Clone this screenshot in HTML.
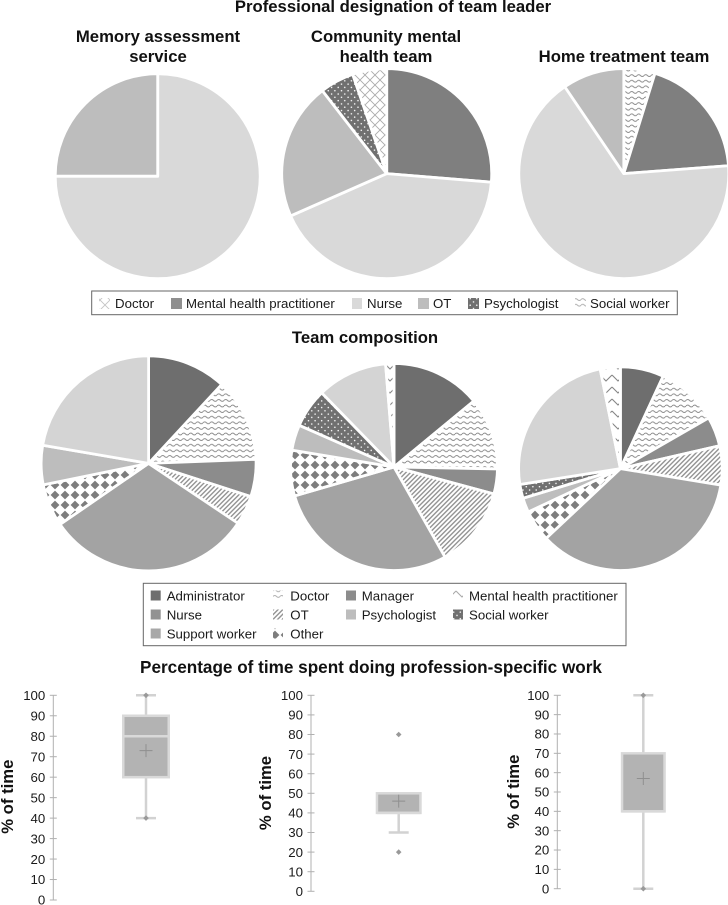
<!DOCTYPE html>
<html lang="en">
<head>
<meta charset="utf-8">
<title>Team leader, composition and profession-specific work</title>
<style>
html,body{margin:0;padding:0;background:#fff;}
svg{display:block;font-family:"Liberation Sans",Arial,sans-serif;}
.t{font-size:16.7px;font-weight:bold;fill:#111;text-anchor:middle;}
.l{font-size:13.25px;fill:#1a1a1a;}
</style>
</head>
<body>
<svg id="chart" xmlns="http://www.w3.org/2000/svg" width="728" height="905" viewBox="0 0 728 905">
<defs>
<pattern id="p-wave" patternUnits="userSpaceOnUse" width="7" height="5.6"><rect width="7" height="5.6" fill="#fff"/><path d="M0 2.8Q1.75 1 3.5 2.8T7 2.8" fill="none" stroke="#8a8a8a" stroke-width=".95"/></pattern>
<pattern id="p-cross" patternUnits="userSpaceOnUse" width="10" height="10"><rect width="10" height="10" fill="#fff"/><path d="M0 0L10 10M10 0L0 10" stroke="#ababab" stroke-width=".9"/></pattern>
<pattern id="p-stripe" patternUnits="userSpaceOnUse" width="3.3" height="3.3" patternTransform="rotate(45)"><rect width="3.3" height="3.3" fill="#fff"/><rect width="1.4" height="3.3" fill="#939393"/></pattern>
<pattern id="p-diamond" patternUnits="userSpaceOnUse" width="10" height="10"><rect width="10" height="10" fill="#fff"/><polygon points="5,0.6 9.4,5 5,9.4 0.6,5" fill="#7d7d7d"/></pattern>
<pattern id="p-dots" patternUnits="userSpaceOnUse" width="6.6" height="6.6"><rect width="6.6" height="6.6" fill="#707070"/><circle cx="1.6" cy="1.6" r=".75" fill="#fff"/><circle cx="4.9" cy="4.9" r=".75" fill="#fff"/></pattern>
<pattern id="p-zig" patternUnits="userSpaceOnUse" width="12" height="12"><rect width="12" height="12" fill="#fff"/><path d="M0 3L6 9L12 3" fill="none" stroke="#858585" stroke-width="1.1"/></pattern>
</defs>

<text class="t" x="393" y="12">Professional designation of team leader</text>
<text class="t" x="158" y="42">Memory assessment</text>
<text class="t" x="158" y="62">service</text>
<text class="t" x="386" y="42">Community mental</text>
<text class="t" x="386" y="62">health team</text>
<text class="t" x="624" y="62">Home treatment team</text>
<text class="t" x="365" y="343">Team composition</text>
<text class="t" x="371" y="673" style="font-size:17.15px">Percentage of time spent doing profession-specific work</text>

<g id="pies"></g>
<g id="boxes"></g>

<g>
<rect x="91.7" y="291" width="585.6" height="23.7" fill="#fff" stroke="#666" stroke-width="1"/>
<rect x="99" y="298" width="11" height="11" fill="url(#p-cross)" opacity=".7"/>
<text class="l" x="115" y="308">Doctor</text>
<rect x="171" y="298" width="11" height="11" fill="#8f8f8f"/>
<text class="l" x="186" y="308">Mental health practitioner</text>
<rect x="352" y="298" width="10" height="11" fill="#d9d9d9"/>
<text class="l" x="367" y="308">Nurse</text>
<rect x="418" y="298" width="11" height="11" fill="#bdbdbd"/>
<text class="l" x="433" y="308">OT</text>
<rect x="468" y="298" width="11" height="11" fill="url(#p-dots)"/>
<text class="l" x="484" y="308">Psychologist</text>
<rect x="575" y="298" width="11" height="11" fill="url(#p-wave)" opacity=".7"/>
<text class="l" x="590" y="308">Social worker</text>
</g>

<g>
<rect x="143.3" y="583.3" width="482.7" height="62.4" fill="#fff" stroke="#666" stroke-width="1"/>
<rect x="150.7" y="590.5" width="10" height="10" fill="#6e6e6e"/>
<text class="l" x="166.7" y="600.5">Administrator</text>
<rect x="273" y="590.5" width="10" height="10" fill="url(#p-wave)" opacity=".7"/>
<text class="l" x="290.3" y="600.5">Doctor</text>
<rect x="346" y="590.5" width="10" height="10" fill="#8c8c8c"/>
<text class="l" x="361.7" y="600.5">Manager</text>
<rect x="453" y="590.5" width="10" height="10" fill="url(#p-zig)" opacity=".7"/>
<text class="l" x="469" y="600.5">Mental health practitioner</text>
<rect x="150.7" y="609.5" width="10" height="10" fill="#929292"/>
<text class="l" x="166.7" y="619.5">Nurse</text>
<rect x="273" y="609.5" width="10" height="10" fill="url(#p-stripe)"/>
<text class="l" x="290.3" y="619.5">OT</text>
<rect x="346" y="590.5" width="0" height="0" fill="none"/>
<rect x="346" y="609.5" width="10" height="10" fill="#bdbdbd"/>
<text class="l" x="361.7" y="619.5">Psychologist</text>
<rect x="453" y="609.5" width="10" height="10" fill="url(#p-dots)"/>
<text class="l" x="469" y="619.5">Social worker</text>
<rect x="150.7" y="628.5" width="10" height="10" fill="#a8a8a8"/>
<text class="l" x="166.7" y="638.5">Support worker</text>
<rect x="273" y="628.5" width="10" height="10" fill="url(#p-diamond)"/>
<text class="l" x="290.3" y="638.5">Other</text>
</g>
</svg>

<script>
// Pie data: slices listed clockwise from 12 o'clock, values in percent
const leaderMemoryCategories = ['Nurse', 'OT'];
const leaderMemoryValues = [75, 25];
const leaderCommunityCategories = ['Mental health practitioner', 'Nurse', 'OT', 'Psychologist', 'Doctor'];
const leaderCommunityValues = [26.3, 42.1, 21.1, 5.25, 5.25];
const leaderHomeCategories = ['Social worker', 'Mental health practitioner', 'Nurse', 'OT'];
const leaderHomeValues = [4.8, 19, 66.7, 9.5];

const compMemoryCategories = ['Administrator', 'Doctor', 'Manager', 'OT', 'Support worker', 'Other', 'Psychologist', 'Nurse'];
const compMemoryValues = [11.9, 12.5, 5.6, 4.4, 31, 6.4, 5.9, 22.3];
const compCommunityCategories = ['Administrator', 'Doctor', 'Manager', 'OT', 'Support worker', 'Other', 'Psychologist', 'Social worker', 'Nurse', 'Mental health practitioner'];
const compCommunityValues = [14, 11.3, 3.9, 12.6, 28.7, 7.1, 4, 6.1, 11, 1.3];
const compHomeCategories = ['Administrator', 'Doctor', 'Manager', 'OT', 'Support worker', 'Other', 'Psychologist', 'Social worker', 'Nurse', 'Mental health practitioner'];
const compHomeValues = [6.9, 9.8, 4.7, 6.2, 35.4, 5, 2.3, 2.2, 24.3, 3.2];

// Box plot data: memory service, community team, home treatment team
const tickLabels = [0, 10, 20, 30, 40, 50, 60, 70, 80, 90, 100];
const boxTeams = ['memory', 'community', 'home'];
const boxQ1 = [60, 40, 40];
const boxMedian = [80, 40, 40];
const boxQ3 = [90, 50, 70];
const boxWhiskerLow = [40, 30, 0];
const boxWhiskerHigh = [100, 50, 100];
const boxMean = [73, 46, 57];
const boxMarkers = [[100, 40], [80, 20], [100, 0]];

const NS = 'http://www.w3.org/2000/svg';
function make(tag, attrs, parent) {
  const node = document.createElementNS(NS, tag);
  for (const k in attrs) node.setAttribute(k, attrs[k]);
  parent.appendChild(node);
  return node;
}
function kebab(s) { return s.toLowerCase().replace(/[^a-z0-9]+/g, '-'); }

function leaderFill(cat) {
  if (cat === 'Doctor') return 'url(#p-cross)';
  if (cat === 'Mental health practitioner') return '#7f7f7f';
  if (cat === 'Nurse') return '#d9d9d9';
  if (cat === 'OT') return '#bdbdbd';
  if (cat === 'Psychologist') return 'url(#p-dots)';
  return 'url(#p-wave)';
}
function compFill(cat) {
  if (cat === 'Administrator') return '#6e6e6e';
  if (cat === 'Doctor') return 'url(#p-wave)';
  if (cat === 'Manager') return '#8c8c8c';
  if (cat === 'OT') return 'url(#p-stripe)';
  if (cat === 'Support worker') return '#a3a3a3';
  if (cat === 'Other') return 'url(#p-diamond)';
  if (cat === 'Psychologist') return '#bdbdbd';
  if (cat === 'Social worker') return 'url(#p-dots)';
  if (cat === 'Nurse') return '#d4d4d4';
  return 'url(#p-zig)';
}

function drawPie(name, categories, values, fillFor, cx, cy, r) {
  const parent = document.getElementById('pies');
  const g = make('g', {}, parent);
  
  
  const total = values.reduce(function (a, b) { return a + b; }, 0);
  const angleOf = function (v) { return v / total * 2 * Math.PI; };
  let cum = 0;
  values.forEach(function (v, i) {
    const a0 = angleOf(cum);
    cum += v;
    const a1 = angleOf(cum);
    const x0 = cx + r * Math.sin(a0), y0 = cy - r * Math.cos(a0);
    const x1 = cx + r * Math.sin(a1), y1 = cy - r * Math.cos(a1);
    const large = a1 - a0 > Math.PI ? 1 : 0;
    const d = 'M' + cx + ' ' + cy + 'L' + x0.toFixed(2) + ' ' + y0.toFixed(2) +
      'A' + r + ' ' + r + ' 0 ' + large + ' 1 ' + x1.toFixed(2) + ' ' + y1.toFixed(2) + 'Z';
    const slice = make('path', { d: d, fill: fillFor(categories[i]), stroke: '#fff', 'stroke-width': 2.8, 'stroke-linejoin': 'round' }, g);
    
    
  });
}

drawPie('pie-leader-memory', leaderMemoryCategories, leaderMemoryValues, leaderFill, 157.7, 176.2, 102.5);
drawPie('pie-leader-community', leaderCommunityCategories, leaderCommunityValues, leaderFill, 386.7, 173.6, 105);
drawPie('pie-leader-home', leaderHomeCategories, leaderHomeValues, leaderFill, 623.8, 173.6, 105);
drawPie('pie-composition-memory', compMemoryCategories, compMemoryValues, compFill, 148.6, 463.4, 107.5);
drawPie('pie-composition-community', compCommunityCategories, compCommunityValues, compFill, 394, 467, 103.5);
drawPie('pie-composition-home', compHomeCategories, compHomeValues, compFill, 620.4, 468.6, 101.8);

function drawBox(i, axisX, y0px, y100px, cx, boxW, titleX, titleY) {
  const parent = document.getElementById('boxes');
  const g = make('g', {}, parent);
  
  
  const y = function (v) { return y0px - v / 100 * (y0px - y100px); };

  const axis = make('line', { x1: axisX, x2: axisX, y1: y(0), y2: y(100), stroke: '#b0b0b0', 'stroke-width': 1 }, g);
  
  
  tickLabels.forEach(function (t) {
    const tick = make('line', { x1: axisX - 3.5, x2: axisX + 3.5, y1: y(t), y2: y(t), stroke: '#b0b0b0', 'stroke-width': 1 }, g);
    
    
    const lab = make('text', { x: axisX - 8, y: y(t) + 4.7, 'text-anchor': 'end', 'font-size': 13.25, fill: '#1a1a1a' }, g);
    lab.textContent = String(t);
    
    
  });

  const title = make('text', { transform: 'translate(' + titleX + ' ' + titleY + ') rotate(-90)', 'text-anchor': 'middle', 'font-size': 16.7, 'font-weight': 'bold', fill: '#111' }, g);
  title.textContent = '% of time';
  
  

  const segs = [
    [cx, cx, boxWhiskerLow[i], boxQ1[i], 'whisker-low'],
    [cx, cx, boxQ3[i], boxWhiskerHigh[i], 'whisker-high'],
    [cx - 10, cx + 10, boxWhiskerLow[i], boxWhiskerLow[i], 'whisker-cap-low']
  ];
  if (boxWhiskerHigh[i] > boxQ3[i]) segs.push([cx - 10, cx + 10, boxWhiskerHigh[i], boxWhiskerHigh[i], 'whisker-cap-high']);
  segs.forEach(function (s) {
    const seg = make('line', { x1: s[0], x2: s[1], y1: y(s[2]), y2: y(s[3]), stroke: '#d2d2d2', 'stroke-width': 2.5 }, g);
    
    
  });

  const box = make('rect', { x: cx - boxW / 2, y: y(boxQ3[i]), width: boxW, height: y(boxQ1[i]) - y(boxQ3[i]), fill: '#b3b3b3', stroke: '#d9d9d9', 'stroke-width': 2.5 }, g);
  
  

  const med = make('line', { x1: cx - boxW / 2, x2: cx + boxW / 2, y1: y(boxMedian[i]), y2: y(boxMedian[i]), stroke: '#d9d9d9', 'stroke-width': 2.5 }, g);
  
  

  const my = y(boxMean[i]);
  const mean = make('path', { d: 'M' + (cx - 6.5) + ' ' + my + 'H' + (cx + 6.5) + 'M' + cx + ' ' + (my - 6.5) + 'V' + (my + 6.5), stroke: '#8f8f8f', 'stroke-width': 1, fill: 'none' }, g);
  
  

  boxMarkers[i].forEach(function (v) {
    const yy = y(v);
    const dot = make('path', { d: 'M' + cx + ' ' + (yy - 2.8) + 'L' + (cx + 2.8) + ' ' + yy + 'L' + cx + ' ' + (yy + 2.8) + 'L' + (cx - 2.8) + ' ' + yy + 'Z', fill: '#999' }, g);
    
    
  });
}

drawBox(0, 53.3, 900, 695.3, 146, 45.5, 13, 796.7);
drawBox(1, 311, 891.3, 695.3, 398.7, 43.5, 271, 793);
drawBox(2, 557.3, 888.7, 695.3, 643.3, 42.5, 519, 791.7);
</script>
</body>
</html>
